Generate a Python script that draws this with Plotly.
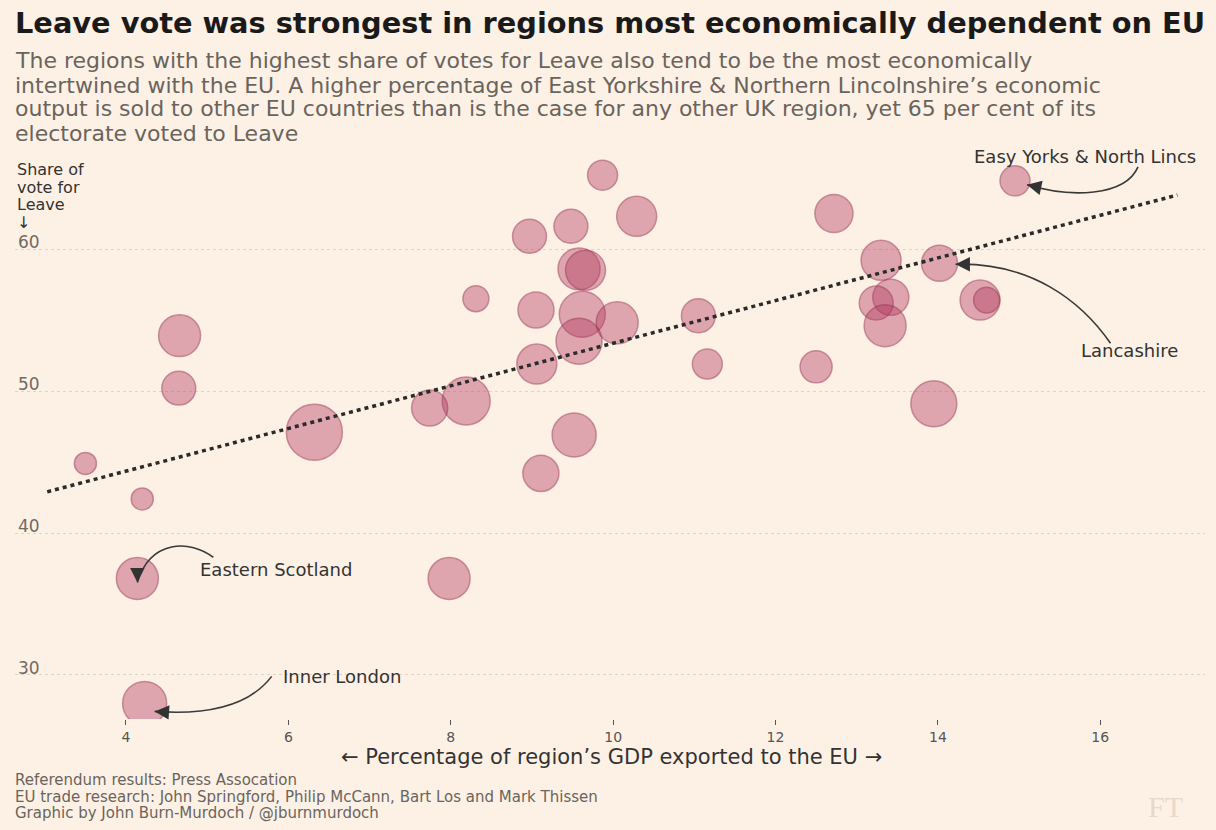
import plotly.graph_objects as go

# ---------------- data ----------------
gdp_export_share = [9.87, 10.29, 9.48, 8.97, 9.58, 9.66, 8.31, 9.05, 9.62, 10.05,
                    9.58, 11.05, 9.06, 11.16, 8.19, 7.74, 9.52, 14.95, 12.72, 13.30,
                    14.02, 13.42, 13.24, 13.35, 14.52, 14.60, 12.50, 13.95, 4.66, 4.65,
                    6.32, 3.50, 4.20, 4.14, 7.98, 4.23, 9.11]
leave_share = [65.2, 62.3, 61.6, 60.9, 58.6, 58.5, 56.5, 55.7, 55.4, 54.8,
               53.5, 55.3, 51.9, 51.9, 49.3, 48.8, 46.9, 64.8, 62.5, 59.2,
               59.0, 56.6, 56.2, 54.6, 56.4, 56.4, 51.7, 49.1, 53.9, 50.2,
               47.1, 44.9, 42.4, 36.8, 36.8, 28.0, 44.2]
electorate_k = [720, 1280, 920, 920, 1410, 1280, 540, 1040, 1690, 1410,
                1690, 920, 1280, 720, 1840, 1040, 1550, 720, 1160, 1280,
                1040, 1040, 920, 1410, 1280, 540, 820, 1690, 1410, 920,
                2510, 390, 390, 1410, 1410, 1550, 1040]
labelled_regions = ["Easy Yorks & North Lincs", "Lancashire", "Eastern Scotland", "Inner London"]
labelled_index = [17, 20, 33, 35]
trend_x = [3.03, 16.95]
trend_y = [42.9, 63.8]
x_ticks = [4, 6, 8, 10, 12, 14, 16]
y_ticks = [30, 40, 50, 60]

title = "Leave vote was strongest in regions most economically dependent on EU"
subtitle_lines = [
    "The regions with the highest share of votes for Leave also tend to be the most economically",
    "intertwined with the EU. A higher percentage of East Yorkshire & Northern Lincolnshire\u2019s economic",
    "output is sold to other EU countries than is the case for any other UK region, yet 65 per cent of its",
    "electorate voted to Leave",
]
y_title_lines = ["Share of", "vote for", "Leave", "\u2193"]
x_title = "\u2190 Percentage of region\u2019s GDP exported to the EU \u2192"
footer_lines = [
    "Referendum results: Press Assocation",
    "EU trade research: John Springford, Philip McCann, Bart Los and Mark Thissen",
    "Graphic by John Burn-Murdoch / @jburnmurdoch",
]

# ---------------- layout geometry ----------------
W, H = 1216, 830
M = dict(l=15, r=11, t=150, b=111)
XR = [2.633, 17.29]
YR = [26.901, 66.972]
PW = W - M["l"] - M["r"]
PH = H - M["t"] - M["b"]
DX = (XR[1] - XR[0]) / PW
DY = (YR[1] - YR[0]) / PH
FONT = "DejaVu Sans"
BG = "#fdf1e5"


def px_x(px):
    return (px - M["l"]) / PW


def px_y(py):
    return (H - M["b"] - py) / PH


fig = go.Figure()

fig.add_trace(go.Scatter(
    x=gdp_export_share, y=leave_share, mode="markers",
    marker=dict(size=electorate_k, sizemode="area", sizeref=1.6,
                color="rgba(178,55,95,0.58)",
                line=dict(color="rgba(150,45,80,0.7)", width=1.5)),
    hoverinfo="x+y", showlegend=False))

fig.add_trace(go.Scatter(
    x=trend_x, y=trend_y, mode="lines",
    line=dict(color="#2b2b2b", width=3.5, dash="4px,4px"),
    hoverinfo="skip", showlegend=False))

annotations = []
shapes = []

# title / subtitle
annotations.append(dict(text="<b>" + title + "</b>", xref="paper", yref="paper",
                        x=px_x(13), y=px_y(23), xanchor="left", yanchor="middle",
                        showarrow=False, font=dict(family=FONT, size=28.8, color="#1a1a1a")))
for i, line in enumerate(subtitle_lines):
    annotations.append(dict(text=line, xref="paper", yref="paper",
                            x=px_x(13), y=px_y(61 + 24 * i), xanchor="left", yanchor="middle",
                            showarrow=False, font=dict(family=FONT, size=22, color="#6a645e")))
for i, line in enumerate(y_title_lines):
    annotations.append(dict(text=line, xref="paper", yref="paper",
                            x=px_x(15), y=px_y(170 + 17.5 * i), xanchor="left", yanchor="middle",
                            showarrow=False, font=dict(family=FONT, size=16, color="#333333")))
annotations.append(dict(text=x_title, xref="paper", yref="paper",
                        x=px_x(611), y=px_y(757), xanchor="center", yanchor="middle",
                        showarrow=False, font=dict(family=FONT, size=21, color="#333333")))
for i, line in enumerate(footer_lines):
    annotations.append(dict(text=line, xref="paper", yref="paper",
                            x=px_x(13), y=px_y(780 + 16.5 * i), xanchor="left", yanchor="middle",
                            showarrow=False, font=dict(family=FONT, size=15, color="#6a645e")))
annotations.append(dict(text="FT", xref="paper", yref="paper",
                        x=px_x(1165), y=px_y(806), xanchor="center", yanchor="middle",
                        showarrow=False, font=dict(family="Liberation Serif", size=30, color="#e6d9c9")))

# labelled regions: text offsets, curved connectors (pixel offsets from the bubble)
label_style = [
    # (text xshift, yshift(up), curve pts [start, c1, c2, end] in px offsets, arrow ax, ay)
    (70, 24, [(123, -14), (110, 16), (55, 17), (12, 4)], 14, 3),
    (190, -87, [(171, 80), (141, 37), (91, -1), (16, 1)], 14, 0),
    (139, 9, [(76, -21), (53, -39), (13, -39), (0, 4)], 0, -13),
    (197, 27, [(127, -27), (105, 2), (65, 12), (10, 8)], 14, 1),
]
for name, idx, (xs, ys, pts, ax, ay) in zip(labelled_regions, labelled_index, label_style):
    bx, by = gdp_export_share[idx], leave_share[idx]
    annotations.append(dict(text=name, x=bx, y=by, xref="x", yref="y",
                            xshift=xs, yshift=ys, showarrow=False, xanchor="center", yanchor="middle",
                            font=dict(family=FONT, size=18, color="#333333")))
    d = [(bx + ox * DX, by - oy * DY) for ox, oy in pts]
    path = "M {},{} C {},{} {},{} {},{}".format(d[0][0], d[0][1], d[1][0], d[1][1],
                                               d[2][0], d[2][1], d[3][0], d[3][1])
    shapes.append(dict(type="path", path=path, xref="x", yref="y",
                       line=dict(color="#3a3a3a", width=1.6)))
    annotations.append(dict(text="", x=d[3][0], y=d[3][1], xref="x", yref="y",
                            ax=ax, ay=ay, showarrow=True, arrowhead=2, arrowsize=1.8,
                            arrowwidth=1.6, arrowcolor="#333333", standoff=0))

fig.update_layout(
    width=W, height=H, margin=M,
    paper_bgcolor=BG, plot_bgcolor=BG,
    font=dict(family=FONT, color="#333333"),
    annotations=annotations, shapes=shapes,
    xaxis=dict(range=XR, tickvals=x_ticks, ticks="outside", ticklen=5, tickwidth=1,
               tickcolor="#555555", showgrid=False, zeroline=False, showline=False,
               tickfont=dict(family=FONT, size=14, color="#555555")),
    yaxis=dict(range=YR, tickvals=y_ticks, ticks="", showgrid=True, gridcolor="#ddd3c7",
               griddash="dot", gridwidth=1, zeroline=False, showline=False,
               ticklabelposition="inside", ticklabelshift=-7,
               tickfont=dict(family=FONT, size=17, color="#6f6a64")),
)

fig.write_html("out.html", config={"displayModeBar": False},
               post_script="document.body.style.margin='0';document.body.style.background='#fdf1e5';")
